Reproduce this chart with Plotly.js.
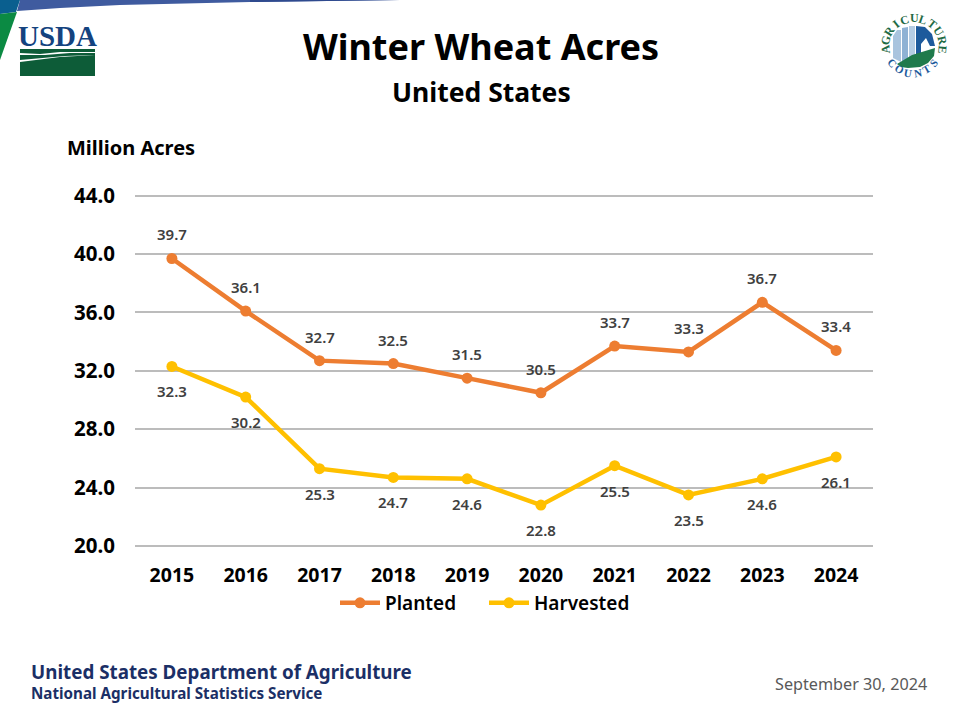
<!DOCTYPE html>
<html><head><meta charset="utf-8">
<script src="https://cdn.plot.ly/plotly-3.0.1.min.js"></script>
<style>html,body{margin:0;padding:0;background:#fff}#c{width:960px;height:720px}</style></head>
<body><div id="c"></div>
<script>
const years = ['2015','2016','2017','2018','2019','2020','2021','2022','2023','2024'];
const planted = [39.7,36.1,32.7,32.5,31.5,30.5,33.7,33.3,36.7,33.4];
const harvested = [32.3,30.2,25.3,24.7,24.6,22.8,25.5,23.5,24.6,26.1];
const yTicks = [20,24,28,32,36,40,44];
const ORANGE='#ed7d31', GOLD='#ffc000', FONT='"Noto Sans", sans-serif';

const X=p=>p/960, Y=p=>1-p/720;
function poly(pts,fill){
  return {type:'path',xref:'paper',yref:'paper',layer:'above',fillcolor:fill,line:{width:0},
    path:'M'+pts.map(p=>X(p[0]).toFixed(5)+','+Y(p[1]).toFixed(5)).join(' L')+' Z'};
}
function note(text,x,y,size,color,opt){
  return Object.assign({text,xref:'paper',yref:'paper',x:X(x),y:Y(y),xanchor:'center',yanchor:'middle',
    showarrow:false,font:{family:FONT,size,color}},opt||{});
}
const shapes=[
  // top band
  poly([[20,0],[400,0],[250,2],[120,5],[60,8],[17,11]],'#3f5b9f'),
  poly([[250,0],[400,0],[250,2]],'#2f4a8e'),
  poly([[0,0],[20,0],[16,12],[0,14]],'#0a5f8f'),
  poly([[0,14],[17,12],[0,60]],'#0b8a43'),
  // USDA field
  poly([[20,49],[95,49],[95,52],[60,52],[40,54],[20,53]],'#0d5c38'),
  poly([[20,55],[45,55],[70,53],[95,53],[95,55],[65,56],[20,60]],'#0d5c38'),
  poly([[20,62],[60,57],[95,55],[95,76],[20,76]],'#0d5c38'),
  // Agriculture Counts emblem
  poly([[893,58],[893,36],[897,30],[901,30],[901,62]],'#a9c4de'),
  poly([[902,62],[902,28],[908,27],[908,60]],'#8fb2d4'),
  poly([[909,58],[909,26],[915,26],[915,56]],'#b5cde4'),
  poly([[916,56],[916,26],[925,27],[932,34],[935,46],[930,46],[926,38],[921,44],[921,54]],'#1d5a9c'),
  poly([[897,64],[912,55],[935,48],[934,56],[928,63],[920,67],[908,68],[901,67]],'#1f7a4c')
];
const arcTop='AGRICULTURE'.split(''), arcBottom='COUNTS'.split('');
const emblem=[], SERIF='"Liberation Serif", serif';
arcTop.forEach((ch,i)=>{
  const d=-95+i*19, a=d*Math.PI/180;
  emblem.push(note(ch,914+29*Math.sin(a),47-29*Math.cos(a),12,'#1f6b45',
    {textangle:d,font:{family:SERIF,size:12,weight:700,color:'#1f6b45'}}));
});
arcBottom.forEach((ch,i)=>{
  const d=-50+i*20, a=d*Math.PI/180;
  emblem.push(note(ch,913+27*Math.sin(a),46+27*Math.cos(a),11,'#1d5a9c',
    {textangle:-d,font:{family:SERIF,size:11,weight:700,color:'#1d5a9c'}}));
});
const valueNotes=[];
planted.forEach((v,i)=>valueNotes.push({x:i,y:v,xref:'x',yref:'y',text:v.toFixed(1),showarrow:false,yshift:24,
  font:{family:FONT,size:15,color:'#404040',weight:600}}));
harvested.forEach((v,i)=>valueNotes.push({x:i,y:v,xref:'x',yref:'y',text:v.toFixed(1),showarrow:false,yshift:-25,
  font:{family:FONT,size:15,color:'#404040',weight:600}}));

const line=(name,y,color)=>({type:'scatter',mode:'lines+markers',name,x:years,y,
  line:{color,width:4.5},marker:{color,size:11},cliponaxis:false});

Plotly.newPlot('c',[line('Planted',planted,ORANGE),line('Harvested',harvested,GOLD)],{
  width:960,height:720,margin:{l:0,r:0,t:0,b:0},paper_bgcolor:'#fff',plot_bgcolor:'#fff',
  title:{text:'<b>Winter Wheat Acres</b>',x:X(481),xanchor:'center',y:Y(47),yanchor:'middle',
    font:{family:FONT,size:36,color:'#000'}},
  xaxis:{domain:[X(135),X(873)],type:'category',range:[-0.5,9.5],showgrid:false,zeroline:false,
    ticks:'outside',ticklen:9,tickcolor:'rgba(0,0,0,0)',showline:false,
    tickfont:{family:FONT,size:19.5,color:'#000',weight:700}},
  yaxis:{domain:[Y(548.3),Y(194)],range:[19.84,44.12],tickvals:yTicks,tickformat:'.1f',showgrid:true,gridcolor:'#bcbcbc',gridwidth:2,
    zeroline:false,showline:false,ticks:'outside',ticklen:15,tickcolor:'rgba(0,0,0,0)',
    tickfont:{family:FONT,size:20.5,color:'#000',weight:700}},
  legend:{orientation:'h',x:X(335),xanchor:'left',y:Y(603),yanchor:'middle',itemwidth:40,entrywidth:94,entrywidthmode:'pixels',
    font:{family:FONT,size:19,color:'#000',weight:600},bgcolor:'rgba(0,0,0,0)'},
  shapes,
  annotations:[
    note('<b>United States</b>',481,92,26.5,'#000'),
    note('<b>Million Acres</b>',131,148,20,'#000'),
    note('<b>USDA</b>',57.5,36,29,'#14437f',{font:{family:SERIF,size:29,color:'#14437f'}}),
    note('<b>United States Department of Agriculture</b>',29,672,18.8,'#1b2f66',{xanchor:'left'}),
    note('<b>National Agricultural Statistics Service</b>',29,693,15.2,'#1b2f66',{xanchor:'left'}),
    note('September 30, 2024',929,684,16.2,'#595959',{xanchor:'right'})
  ].concat(emblem,valueNotes)
},{displayModeBar:false,staticPlot:true});
</script></body></html>
